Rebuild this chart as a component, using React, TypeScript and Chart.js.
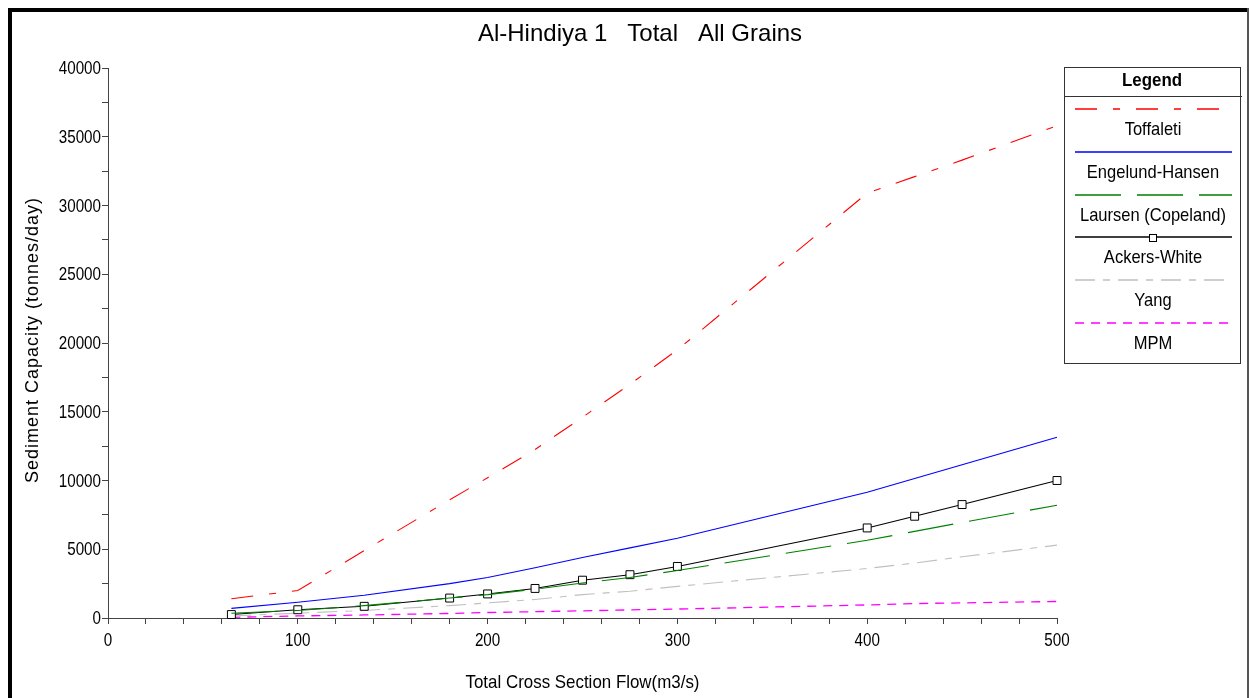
import React, { useEffect, useRef } from "react";
import { Chart, registerables } from "chart.js";

Chart.register(...registerables);

// ---- data ----
const flows = [65, 100, 135, 180, 200, 225, 250, 275, 300, 400, 425, 450, 500];
const toffaleti = [1400, 2000, 4900, 8600, 10200, 12250, 14600, 17000, 19500, 30900, 32100, 33300, 35800];
const engelundHansen = [700, 1150, 1650, 2500, 2950, 3650, 4400, 5100, 5800, 9150, 10150, 11150, 13150];
const laursen = [350, 550, 900, 1450, 1700, 2100, 2550, 2950, 3450, 5650, 6300, 6950, 8200];
const ackersWhite = [250, 600, 850, 1450, 1750, 2150, 2750, 3150, 3750, 6550, 7400, 8250, 10000];
const yang = [150, 350, 550, 900, 1100, 1350, 1700, 1950, 2300, 3600, 4000, 4450, 5300];
const mpm = [50, 150, 220, 330, 400, 460, 520, 590, 650, 950, 1050, 1100, 1200];

const seriesNames = ["Toffaleti", "Engelund-Hansen", "Laursen (Copeland)", "Ackers-White", "Yang", "MPM"];
const xTickLabels = [0, 100, 200, 300, 400, 500];
const yTickLabels = [0, 5000, 10000, 15000, 20000, 25000, 30000, 35000, 40000];

const chartTitle = "Al-Hindiya 1   Total   All Grains";
const xAxisTitle = "Total Cross Section Flow(m3/s)";
const yAxisTitle = "Sediment Capacity (tonnes/day)";
const legendTitle = "Legend";

const SANS = "'Liberation Sans',Arial,sans-serif";

const styles = [
  { color: "#ff0000", dash: [22, 16, 7, 16], width: 1.1, marker: false },
  { color: "#0000ff", dash: [], width: 1.1, marker: false },
  { color: "#008000", dash: [46, 16], width: 1.1, marker: false },
  { color: "#000000", dash: [], width: 1.1, marker: true },
  { color: "#c0c0c0", dash: [20, 8, 7, 8], width: 1.1, marker: false },
  { color: "#ff00ff", dash: [9, 7], width: 1.3, marker: false },
];

const seriesValues = [toffaleti, engelundHansen, laursen, ackersWhite, yang, mpm];

function drawScaled(
  ctx: CanvasRenderingContext2D,
  text: string,
  x: number,
  y: number,
  sx: number,
  align: CanvasTextAlign
) {
  ctx.save();
  ctx.translate(x, y);
  ctx.scale(sx, 1);
  ctx.textAlign = align;
  ctx.textBaseline = "middle";
  ctx.fillText(text, 0, 0);
  ctx.restore();
}

const decorPlugin = {
  id: "decor",
  afterDraw(chart: any) {
    const ctx: CanvasRenderingContext2D = chart.ctx;
    const area = chart.chartArea;
    const xs = chart.scales.x;
    const ys = chart.scales.y;
    ctx.save();
    // window frame
    ctx.fillStyle = "#000";
    ctx.fillRect(8, 8, 4, 698 - 8);
    ctx.fillRect(8, 8, 1249 - 8, 4);
    ctx.fillStyle = "#555";
    ctx.fillRect(1247, 8, 2, 698 - 8);

    // title
    ctx.fillStyle = "#000";
    ctx.textAlign = "center";
    ctx.textBaseline = "middle";
    ctx.font = `24px ${SANS}`;
    ctx.fillText(chartTitle, 640, 34);

    // tick labels (condensed, as in the reference)
    ctx.font = `19px ${SANS}`;
    xTickLabels.forEach((v) => {
      drawScaled(ctx, String(v), xs.getPixelForValue(v), 641, 0.8, "center");
    });
    yTickLabels.forEach((v) => {
      drawScaled(ctx, String(v), 101, ys.getPixelForValue(v) + 1, 0.8, "right");
    });

    // x axis title
    ctx.font = `19px ${SANS}`;
    drawScaled(ctx, xAxisTitle, (area.left + area.right) / 2, 683, 0.89, "center");

    // y axis title
    ctx.save();
    ctx.translate(33, (area.top + area.bottom) / 2 - 3);
    ctx.rotate(-Math.PI / 2);
    ctx.font = `18px ${SANS}`;
    (ctx as any).letterSpacing = "1px";
    ctx.textAlign = "center";
    ctx.textBaseline = "middle";
    ctx.fillText(yAxisTitle, 0, 0);
    ctx.restore();

    // legend box
    const lx0 = 1064, lx1 = 1240, ly0 = 67, ly1 = 363;
    ctx.strokeStyle = "#333";
    ctx.lineWidth = 1;
    ctx.setLineDash([]);
    ctx.strokeRect(lx0 + 0.5, ly0 + 0.5, lx1 - lx0, ly1 - ly0);
    ctx.beginPath();
    ctx.moveTo(lx0, 96.5);
    ctx.lineTo(lx1 + 2, 96.5);
    ctx.stroke();
    ctx.fillStyle = "#000";
    ctx.font = `bold 19px ${SANS}`;
    drawScaled(ctx, legendTitle, (lx0 + lx1) / 2, 81, 0.89, "center");

    const ds = chart.data.datasets;
    ds.forEach((d: any, i: number) => {
      const s = styles[i];
      const ly = Math.round(109 + i * 42.8);
      ctx.save();
      ctx.strokeStyle = s.color;
      ctx.lineWidth = 1.6;
      ctx.setLineDash(s.dash);
      ctx.beginPath();
      ctx.moveTo(1075, ly);
      ctx.lineTo(1232, ly);
      ctx.stroke();
      if (s.marker) {
        ctx.setLineDash([]);
        ctx.lineWidth = 1;
        ctx.fillStyle = "#fff";
        ctx.strokeStyle = "#000";
        ctx.fillRect(1149, ly - 3, 8, 8);
        ctx.strokeRect(1149.5, ly - 2.5, 7, 7);
      }
      ctx.restore();
      ctx.fillStyle = "#000";
      ctx.font = `19px ${SANS}`;
      drawScaled(ctx, d.label, 1153, ly + 21, 0.87, "center");
    });
    ctx.restore();
  },
};

export default function App() {
  const canvasRef = useRef<HTMLCanvasElement | null>(null);

  useEffect(() => {
    if (!canvasRef.current) return;
    const datasets = seriesNames.map((name, i) => ({
      label: name,
      data: flows.map((x, j) => ({ x, y: seriesValues[i][j] })),
      borderColor: styles[i].color,
      borderWidth: styles[i].width,
      borderDash: styles[i].dash,
      backgroundColor: styles[i].color,
      pointRadius: styles[i].marker ? 5.6 : 0,
      pointStyle: "rect" as const,
      pointBackgroundColor: "#ffffff",
      pointBorderColor: "#000000",
      pointBorderWidth: 1,
      tension: 0,
      fill: false,
      clip: 10,
    }));

    const hidden = "rgba(0,0,0,0)";

    const chart = new Chart(canvasRef.current, {
      type: "line",
      data: { datasets },
      plugins: [decorPlugin],
      options: {
        responsive: false,
        animation: false,
        devicePixelRatio: 1,
        layout: { padding: { left: 0, top: 68, right: 192, bottom: 0 } },
        plugins: {
          legend: { display: false },
          title: { display: false },
          tooltip: { enabled: false },
        },
        scales: {
          x: {
            type: "linear",
            min: 0,
            max: 500,
            afterFit: (scale: any) => {
              scale.height = 80;
            },
            ticks: {
              stepSize: 20,
              autoSkip: false,
              maxRotation: 0,
              color: hidden,
              font: { family: SANS, size: 15 },
              callback: (v: any) => (xTickLabels.includes(Number(v)) ? String(v) : ""),
            },
            grid: {
              drawOnChartArea: false,
              drawTicks: true,
              tickLength: 6,
              color: "#444",
              tickColor: "#444",
            },
            border: { display: true, color: "#444", width: 1 },
          },
          y: {
            type: "linear",
            min: 0,
            max: 40000,
            afterFit: (scale: any) => {
              scale.width = 108;
            },
            ticks: {
              stepSize: 2500,
              autoSkip: false,
              color: hidden,
              font: { family: SANS, size: 15 },
              callback: (v: any) => (yTickLabels.includes(Number(v)) ? String(v) : ""),
            },
            grid: {
              drawOnChartArea: false,
              drawTicks: true,
              tickLength: 6,
              color: "#444",
              tickColor: "#444",
            },
            border: { display: true, color: "#444", width: 1 },
          },
        },
      },
    });
    return () => chart.destroy();
  }, []);

  return (
    <div style={{ position: "fixed", left: 0, top: 0, width: 1249, height: 698, background: "#fff" }}>
      <canvas ref={canvasRef} width={1249} height={698} style={{ display: "block" }} />
    </div>
  );
}
